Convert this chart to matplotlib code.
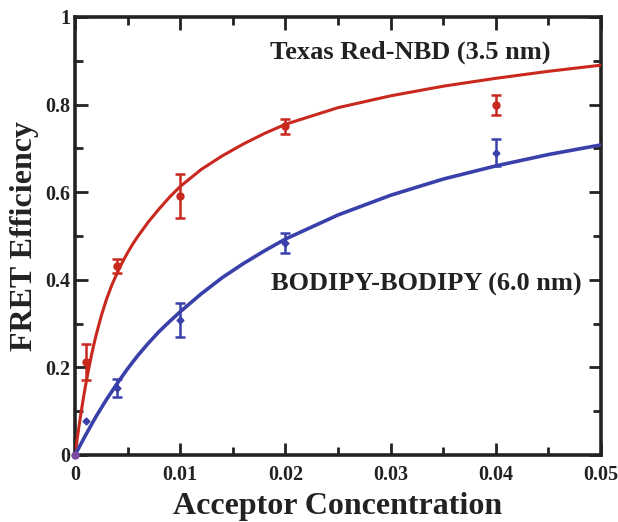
import matplotlib
matplotlib.use('Agg')
import matplotlib.pyplot as plt
from matplotlib.ticker import MultipleLocator
import numpy as np

# measured points
conc = [0.001, 0.004, 0.01, 0.02, 0.04]
red_eff = [0.212, 0.431, 0.591, 0.751, 0.799]
red_err = [0.041, 0.016, 0.050, 0.017, 0.023]
blue_eff = [0.078, 0.153, 0.308, 0.484, 0.690]
blue_err = [np.nan, 0.021, 0.039, 0.023, 0.031]

# fitted curves
red_fit_x = [0, 0.00025, 0.0005, 0.00075, 0.001, 0.00125, 0.0015, 0.00175, 0.002, 0.0025, 0.003,
             0.0035, 0.004, 0.0045, 0.005, 0.0055, 0.006, 0.007, 0.008, 0.009,
             0.01, 0.012, 0.014, 0.016, 0.018, 0.02, 0.025, 0.03, 0.035, 0.04, 0.045, 0.05]
red_fit_y = [0, 0.044, 0.085, 0.123, 0.158, 0.19, 0.22, 0.248, 0.273, 0.318, 0.356,
             0.388, 0.415, 0.44, 0.462, 0.482, 0.50, 0.533, 0.562, 0.589,
             0.613, 0.652, 0.683, 0.71, 0.734, 0.755, 0.793, 0.82, 0.842, 0.86, 0.876, 0.89]
blue_fit_x = [0, 0.001, 0.002, 0.003, 0.004, 0.005, 0.006, 0.007, 0.008, 0.009, 0.01,
              0.012, 0.014, 0.016, 0.018, 0.02, 0.025, 0.03, 0.035, 0.04, 0.045, 0.05]
blue_fit_y = [0, 0.045, 0.088, 0.127, 0.163, 0.197, 0.228, 0.256, 0.282, 0.305, 0.327,
              0.368, 0.405, 0.437, 0.466, 0.493, 0.548, 0.593, 0.63, 0.66, 0.686, 0.708]

x_ticks = [0, 0.01, 0.02, 0.03, 0.04, 0.05]
x_labels = ['0', '0.01', '0.02', '0.03', '0.04', '0.05']
y_ticks = [0, 0.2, 0.4, 0.6, 0.8, 1]
y_labels = ['0', '0.2', '0.4', '0.6', '0.8', '1']

red = '#c8281e'
blue = '#3a40aa'

plt.rcParams['font.family'] = ['Liberation Serif', 'DejaVu Serif']
plt.rcParams['font.weight'] = 'bold'

fig = plt.figure(figsize=(6.18, 5.22), dpi=100)
ax = fig.add_axes([75 / 618, 67 / 522, 526 / 618, 438 / 522])

ax.plot(red_fit_x, red_fit_y, color=red, lw=2.2, zorder=3)
ax.plot(blue_fit_x, blue_fit_y, color=blue, lw=2.6, zorder=3)
ax.errorbar(conc, red_eff, yerr=red_err, fmt='o', color=red, ms=5, capsize=3.5,
            elinewidth=1.8, capthick=1.8, zorder=4)
ax.errorbar(conc, blue_eff, yerr=blue_err, fmt='D', color=blue,
            ms=3.5, capsize=3.5, elinewidth=1.8, capthick=1.8, zorder=4)
ax.plot([0], [0], 'o', color='#7a4aa0', ms=5, zorder=5, clip_on=False)

ax.set_xlim(0, 0.05)
ax.set_ylim(0, 1)
ax.set_xticks(x_ticks)
ax.set_xticklabels(x_labels)
ax.set_yticks(y_ticks)
ax.set_yticklabels(y_labels)
ax.xaxis.set_minor_locator(MultipleLocator(0.005))
ax.yaxis.set_minor_locator(MultipleLocator(0.1))
ax.tick_params(which='both', direction='in', top=True, right=True, width=2, colors='#222222',
               labelsize=14.5)
ax.tick_params(which='major', length=9)
ax.tick_params(which='minor', length=6)
ax.tick_params(axis='x', pad=7)
for s in ax.spines.values():
    s.set_linewidth(2.6)
    s.set_color('#222222')

ax.set_xlabel('Acceptor Concentration', fontsize=23, fontweight='bold', color='#222222', labelpad=5)
ax.set_ylabel('FRET Efficiency', fontsize=23, fontweight='bold', color='#222222', labelpad=4)

ax.text(0.0319, 0.92, 'Texas Red-NBD (3.5 nm)', fontsize=19, fontweight='bold',
        color='#222222', ha='center', va='center')
ax.text(0.0334, 0.39, 'BODIPY-BODIPY (6.0 nm)', fontsize=19, fontweight='bold',
        color='#222222', ha='center', va='center')

fig.savefig('out.png', dpi=100)
